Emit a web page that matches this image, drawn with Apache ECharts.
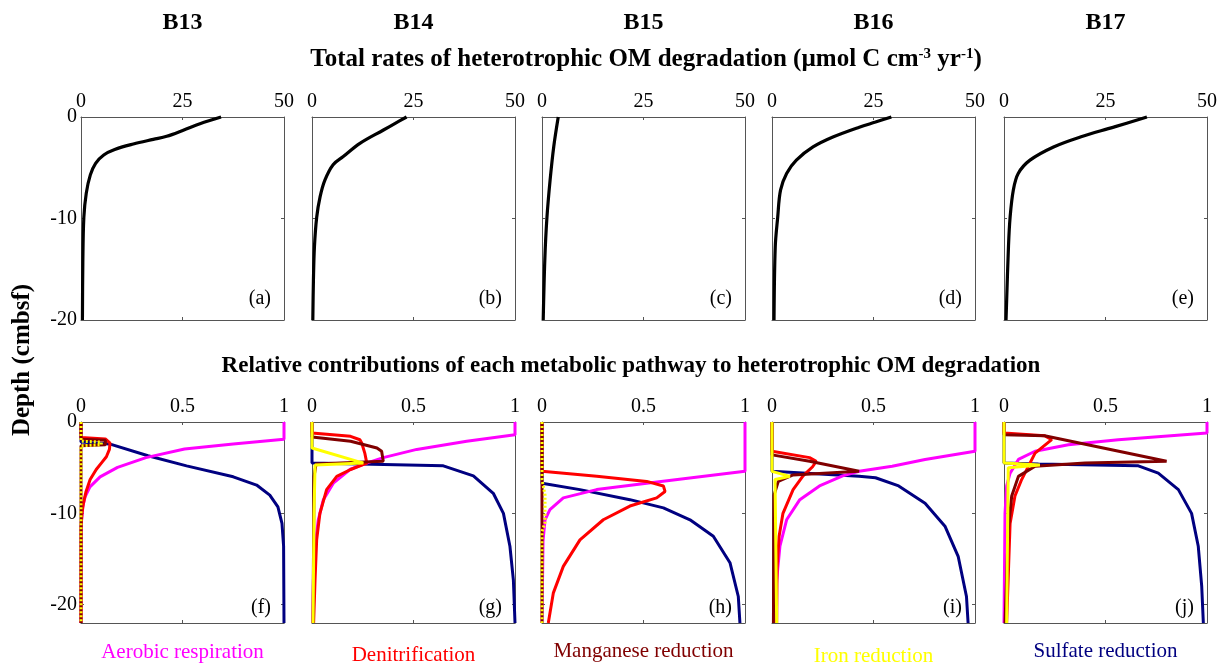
<!DOCTYPE html>
<html><head><meta charset="utf-8">
<script src="https://cdn.jsdelivr.net/npm/echarts@6/dist/echarts.min.js"></script>
<style>html,body{margin:0;padding:0;background:#fff}#chart{width:1225px;height:666px}</style>
</head><body><div id="chart"></div>
<script>
// ---------------- DATA ----------------
const sites = ['B13', 'B14', 'B15', 'B16', 'B17'];
const topLetters = ['(a)', '(b)', '(c)', '(d)', '(e)'];
const bottomLetters = ['(f)', '(g)', '(h)', '(i)', '(j)'];
const pathways = ['Aerobic respiration', 'Denitrification', 'Manganese reduction', 'Iron reduction', 'Sulfate reduction'];
const depthTickLabels = [0, -10, -20];

// Total rates (x = rate, y = depth)
const depth_B13 = [0, -0.66, -1.3, -1.9, -2.2, -2.66, -3.2, -3.74, -4.56, -5.7, -7.5, -9.9, -14.4, -20];
const rate_B13  = [34.5, 29.3, 25.2, 21.1, 17.8, 12.9, 8.3, 5.6, 3.6, 2.3, 1.3, 0.7, 0.45, 0.35];
const depth_B14 = [0, -0.6, -1.28, -2.6, -3.9, -4.7, -6.2, -7.85, -9.9, -12.8, -16.1, -20];
const rate_B14  = [23.3, 20.6, 17.6, 11.8, 7.7, 5.2, 3.2, 2.0, 1.15, 0.6, 0.35, 0.2];
const depth_B15 = [0, -2.9, -6.2, -10, -14, -20];
const rate_B15  = [4.0, 2.9, 2.0, 1.2, 0.7, 0.3];
const depth_B16 = [0, -0.5, -1.0, -1.97, -2.95, -4.25, -5.56, -7.2, -9.9, -12.8, -20];
const rate_B16  = [29.4, 25.5, 21.5, 15.0, 10.1, 6.0, 3.6, 2.1, 1.4, 0.8, 0.5];
const depth_B17 = [0, -1.0, -1.97, -2.95, -4.25, -5.56, -7.2, -9.9, -12.8, -20];
const rate_B17  = [35.2, 27.0, 18.8, 12.2, 6.4, 3.5, 2.3, 1.5, 1.1, 0.5];

// Relative contributions: pairs [fraction, depth]
const B13_aerobic = [[1,0],[1,-1.9],[0.75,-2.4],[0.51,-2.95],[0.32,-3.9],[0.18,-4.96],[0.094,-6.0],[0.044,-7.1],[0.02,-8.2],[0.008,-9.3],[0.002,-11],[0,-22]];
const B13_denit   = [[0,0],[0,-1.7],[0.12,-1.85],[0.143,-2.3],[0.14,-3.0],[0.125,-3.8],[0.1,-4.5],[0.075,-5.2],[0.045,-6.3],[0.025,-7.6],[0.012,-8.9],[0.005,-10],[0,-11.5],[0,-22]];
const B13_mn      = [[0,0],[0,-1.9],[0.12,-2.0],[0.12,-2.5],[0,-2.6],[0,-22]];
const B13_fe      = [[0,0],[0,-2.1],[0.1,-2.2],[0.1,-2.5],[0,-2.6],[0,-22]];
const B13_sulf    = [[0,0],[0,-2.2],[0.14,-2.4],[0.33,-3.7],[0.52,-4.8],[0.75,-6.0],[0.865,-6.9],[0.93,-8.0],[0.97,-9.3],[0.99,-11.1],[0.998,-13.6],[1,-22]];

const B14_aerobic = [[1,0],[1,-1.39],[0.762,-2.1],[0.516,-3.0],[0.351,-3.9],[0.269,-4.5],[0.187,-5.2],[0.105,-6.7],[0.056,-8.5],[0.031,-10.7],[0.015,-13.6],[0.007,-17.3],[0.003,-22]];
const B14_denit   = [[0,0],[0,-1.2],[0.19,-1.57],[0.236,-1.94],[0.245,-2.3],[0.26,-3.4],[0.27,-4.5],[0.19,-5.2],[0.122,-5.95],[0.072,-7.4],[0.039,-10.0],[0.023,-12.9],[0.015,-17.3],[0.008,-22]];
const B14_mn      = [[0,0],[0,-1.65],[0.19,-2.1],[0.32,-2.85],[0.343,-3.2],[0.351,-4.3],[0.02,-4.6],[0.01,-6],[0.005,-22]];
const B14_fe      = [[0,0],[0,-2.85],[0.253,-4.5],[0.015,-4.7],[0.01,-10],[0.005,-22]];
const B14_sulf    = [[0,0],[0,-4.5],[0.647,-4.8],[0.795,-5.9],[0.893,-7.8],[0.943,-10.0],[0.975,-13.6],[0.992,-17.3],[1,-22]];

const B15_aerobic = [[1,0],[1,-5.4],[0.516,-6.7],[0.269,-7.4],[0.105,-8.3],[0.039,-9.6],[0.015,-10.7],[0.005,-13],[0,-22]];
const B15_denit   = [[0,0],[0,-5.4],[0.27,-5.95],[0.516,-6.5],[0.598,-7.0],[0.606,-7.6],[0.565,-8.3],[0.433,-9.2],[0.302,-10.7],[0.187,-12.9],[0.105,-15.8],[0.056,-18.7],[0.031,-22]];
const B15_mn      = [[0,0],[0,-22]];
const B15_fe      = [[0,0],[0,-6.3],[0.015,-8],[0.015,-11],[0,-12],[0,-22]];
const B15_sulf    = [[0,0],[0,-6.7],[0.187,-7.4],[0.433,-8.5],[0.598,-9.4],[0.729,-10.7],[0.844,-12.5],[0.926,-15.4],[0.967,-19.1],[0.975,-22]];

const B16_aerobic = [[1,0],[1,-3.2],[0.754,-4.1],[0.592,-4.85],[0.429,-5.4],[0.348,-5.9],[0.234,-7.0],[0.137,-8.5],[0.072,-10.7],[0.039,-13.6],[0.023,-17.3],[0.015,-22]];
const B16_denit   = [[0,0],[0,-3.2],[0.185,-3.9],[0.218,-4.3],[0.2,-4.9],[0.153,-5.9],[0.104,-7.4],[0.054,-10.0],[0.035,-12.5],[0.025,-16],[0.023,-22]];
const B16_mn      = [[0,0],[0,-3.6],[0.185,-4.3],[0.429,-5.4],[0.104,-5.8],[0.031,-6.5],[0.01,-8],[0.007,-22]];
const B16_fe      = [[0,0],[0,-5.4],[0.088,-5.95],[0.015,-6.3],[0.023,-22]];
const B16_sulf    = [[0,0],[0,-5.4],[0.429,-5.95],[0.51,-6.1],[0.624,-7.0],[0.754,-8.9],[0.852,-11.4],[0.917,-14.7],[0.958,-19.1],[0.966,-22]];

const B17_aerobic = [[1,0],[1,-1.2],[0.563,-1.93],[0.317,-2.5],[0.153,-3.2],[0.071,-4.1],[0.03,-5.6],[0.013,-7.0],[0.005,-10.0],[0,-22]];
const B17_denit   = [[0,0],[0,-1.2],[0.2,-1.5],[0.235,-1.93],[0.153,-3.4],[0.12,-4.85],[0.087,-6.3],[0.054,-8.1],[0.03,-11.1],[0.013,-22]];
const B17_mn      = [[0,0],[0,-1.4],[0.2,-1.5],[0.801,-4.3],[0.4,-4.5],[0.153,-4.85],[0.071,-5.95],[0.038,-8.1],[0.021,-11.8],[0.005,-22]];
const B17_fe      = [[0,0],[0,-4.5],[0.177,-4.7],[0.021,-5.0],[0.013,-22]];
const B17_sulf    = [[0,0],[0,-4.5],[0.17,-4.6],[0.662,-4.8],[0.76,-5.6],[0.859,-7.4],[0.924,-10.0],[0.957,-13.6],[0.974,-18.0],[0.982,-22]];

// ---------------- BUILD ----------------
const topDepths = [depth_B13, depth_B14, depth_B15, depth_B16, depth_B17];
const topRates = [rate_B13, rate_B14, rate_B15, rate_B16, rate_B17];
const bottomCurves = [
  [B13_aerobic, B13_denit, B13_mn, B13_fe, B13_sulf],
  [B14_aerobic, B14_denit, B14_mn, B14_fe, B14_sulf],
  [B15_aerobic, B15_denit, B15_mn, B15_fe, B15_sulf],
  [B16_aerobic, B16_denit, B16_mn, B16_fe, B16_sulf],
  [B17_aerobic, B17_denit, B17_mn, B17_fe, B17_sulf]
];
const pathColors = ['#FF00FF', '#FF0000', '#800000', '#FFFF00', '#000080'];
const pathZ = [3, 4, 5, 6, 2];
const stripedFe = [true, false, true, false, false];

const FONT = '"Liberation Serif", "Times New Roman", serif';
const gridLefts = [81, 312, 542, 772, 1004];
const gridW = 203;
const topY = 117, topH = 203, botY = 422, botH = 201;
const axisCol = '#555';

const grids = [], xAxes = [], yAxes = [], series = [];

function addPanel(row, col) {
  const gi = grids.length;
  grids.push({ left: gridLefts[col], top: row === 0 ? topY : botY, width: gridW, height: row === 0 ? topH : botH, containLabel: false });
  const xMax = row === 0 ? 50 : 1;
  const xInt = row === 0 ? 25 : 0.5;
  const baseX = {
    gridIndex: gi, type: 'value', min: 0, max: xMax, interval: xInt,
    axisLine: { show: true, onZero: false, lineStyle: { color: axisCol, width: 1 } },
    axisTick: { show: true, inside: true, length: 3, lineStyle: { color: axisCol } },
    splitLine: { show: false }
  };
  xAxes.push(Object.assign({}, baseX, { position: 'top',
    axisLabel: { show: true, margin: 5, fontFamily: FONT, fontSize: 20, color: '#000',
      formatter: v => String(v), showMinLabel: true, showMaxLabel: true } }));
  xAxes.push(Object.assign({}, baseX, { position: 'bottom', axisLabel: { show: false } }));
  const yMin = row === 0 ? -20 : -22;
  const baseY = {
    gridIndex: gi, type: 'value', min: yMin, max: 0,
    axisLine: { show: true, onZero: false, lineStyle: { color: axisCol, width: 1 } },
    axisTick: { show: true, inside: true, length: 3, lineStyle: { color: axisCol }, customValues: [-10, -20] },
    splitLine: { show: false }
  };
  if (row === 0) { baseY.interval = 10; delete baseY.axisTick.customValues; }
  yAxes.push(Object.assign({}, baseY, { position: 'left',
    axisLabel: Object.assign({ show: col === 0, margin: 4, fontFamily: FONT, fontSize: 20, color: '#000' },
      row === 1 ? { customValues: depthTickLabels } : {}) }));
  yAxes.push(Object.assign({}, baseY, { position: 'right', axisLabel: { show: false } }));
  return gi;
}

for (let c = 0; c < 5; c++) {
  const gi = addPanel(0, c);
  series.push({
    type: 'line', xAxisIndex: gi * 2, yAxisIndex: gi * 2, showSymbol: false, symbol: 'none',
    smooth: 0.35, clip: false, lineStyle: { color: '#000', width: 3.2 },
    data: topRates[c].map((r, k) => [r, topDepths[c][k]])
  });
}
for (let c = 0; c < 5; c++) {
  const gi = addPanel(1, c);
  bottomCurves[c].forEach((curve, p) => {
    const ls = { color: pathColors[p], width: 3 };
    if (p === 3 && stripedFe[c]) { ls.type = [2, 2]; }
    series.push({
      type: 'line', xAxisIndex: gi * 2, yAxisIndex: gi * 2, showSymbol: false, symbol: 'none',
      smooth: false, clip: false, lineStyle: ls, z: pathZ[p], data: curve
    });
  });
}

// ---------------- TEXT ----------------
const graphic = [];
const colCenters = gridLefts.map(l => l + gridW / 2);
sites.forEach((s, i) => graphic.push({ type: 'text', x: colCenters[i], y: 23,
  style: { text: s, fontFamily: FONT, fontSize: 24, fontWeight: 'bold', fill: '#000', align: 'center', verticalAlign: 'middle' } }));
graphic.push({ type: 'text', x: 646, y: 60,
  style: { text: '{b|Total rates of heterotrophic OM degradation (µmol C cm}{s|-3}{b| yr}{s|-1}{b|)}',
    align: 'center', verticalAlign: 'middle',
    rich: { b: { fontFamily: FONT, fontSize: 25, fontWeight: 'bold', fill: '#000', lineHeight: 28 },
            s: { fontFamily: FONT, fontSize: 15, fontWeight: 'bold', fill: '#000', lineHeight: 28, padding: [0, 0, 12, 0] } } } });
graphic.push({ type: 'text', x: 631, y: 366,
  style: { text: 'Relative contributions of each metabolic pathway to heterotrophic OM degradation',
    fontFamily: FONT, fontSize: 23, fontWeight: 'bold', fill: '#000', align: 'center', verticalAlign: 'middle' } });
graphic.push({ type: 'text', x: 23, y: 360, rotation: Math.PI / 2,
  style: { text: 'Depth (cmbsf)', fontFamily: FONT, fontSize: 25, fontWeight: 'bold', fill: '#000', align: 'center', verticalAlign: 'middle' } });
topLetters.forEach((t, i) => graphic.push({ type: 'text', x: gridLefts[i] + gridW - 13, y: 299,
  style: { text: t, fontFamily: FONT, fontSize: 20, fill: '#000', align: 'right', verticalAlign: 'middle' } }));
bottomLetters.forEach((t, i) => graphic.push({ type: 'text', x: gridLefts[i] + gridW - 13, y: 608,
  style: { text: t, fontFamily: FONT, fontSize: 20, fill: '#000', align: 'right', verticalAlign: 'middle' } }));
const labelY = [652, 655, 651, 656, 651];
pathways.forEach((t, i) => graphic.push({ type: 'text', x: colCenters[i], y: labelY[i],
  style: { text: t, fontFamily: FONT, fontSize: 21, fill: pathColors[i], align: 'center', verticalAlign: 'middle' } }));

const chart = echarts.init(document.getElementById('chart'), null, { renderer: 'canvas' });
chart.setOption({
  animation: false,
  backgroundColor: '#fff',
  grid: grids, xAxis: xAxes, yAxis: yAxes, series: series, graphic: graphic
});
</script></body></html>
